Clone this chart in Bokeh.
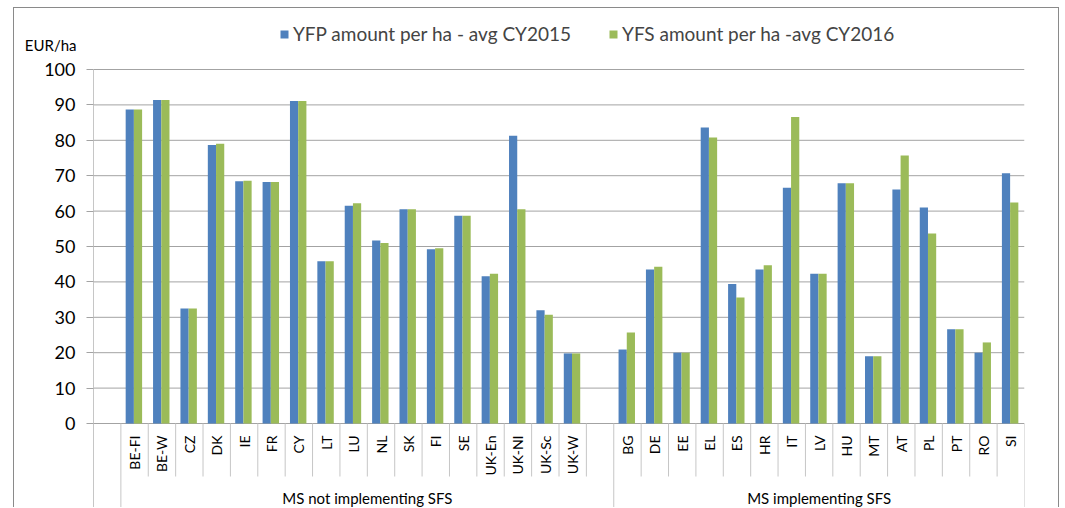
import math
from bokeh.plotting import figure
from bokeh.models import FixedTicker, ColumnDataSource, Legend, LegendItem
from bokeh.core.properties import value
from bokeh.embed import file_html
from bokeh.resources import INLINE

# ---- data ----
group1_name = "MS not implementing SFS"
group1_countries = ["BE-FI", "BE-W", "CZ", "DK", "IE", "FR", "CY", "LT", "LU", "NL",
                    "SK", "FI", "SE", "UK-En", "UK-NI", "UK-Sc", "UK-W"]
group1_yfp = [88.7, 91.4, 32.5, 78.7, 68.4, 68.2, 91.1, 45.8, 61.5, 51.7,
              60.5, 49.2, 58.7, 41.6, 81.3, 32.0, 19.8]
group1_yfs = [88.7, 91.4, 32.5, 79.0, 68.6, 68.2, 91.1, 45.8, 62.2, 51.0,
              60.5, 49.5, 58.7, 42.3, 60.5, 30.7, 19.8]

group2_name = "MS implementing SFS"
group2_countries = ["BG", "DE", "EE", "EL", "ES", "HR", "IT", "LV", "HU", "MT",
                    "AT", "PL", "PT", "RO", "SI"]
group2_yfp = [20.9, 43.5, 20.0, 83.6, 39.4, 43.5, 66.6, 42.3, 67.9, 19.0,
              66.1, 61.0, 26.6, 20.0, 70.7]
group2_yfs = [25.7, 44.3, 20.0, 80.8, 35.6, 44.7, 86.6, 42.3, 67.9, 19.0,
              75.7, 53.7, 26.6, 22.9, 62.4]

series_names = ["YFP amount per ha - avg CY2015", "YFS amount per ha -avg CY2016"]
y_ticks = [0, 10, 20, 30, 40, 50, 60, 70, 80, 90, 100]
y_unit = "EUR/ha"

# ---- category slot layout ----
g1_start = 1                                   # one empty slot before group 1
g1_end = g1_start + len(group1_countries) + 1  # one empty slot after group 1
g2_start = g1_end
g2_end = g2_start + len(group2_countries)
n_slots = g2_end

countries = group1_countries + group2_countries
yfp = group1_yfp + group2_yfp
yfs = group1_yfs + group2_yfs
centers = [g1_start + i + 0.5 for i in range(len(group1_countries))] + \
          [g2_start + i + 0.5 for i in range(len(group2_countries))]

BLUE = "#4F81BD"
GREEN = "#9BBB59"
GRID = "#a3a3a3"
SEP = "#c6c6c6"
FONT = "Lato"

# ---- geometry (pixels) ----
W, H = 1046, 500
MR = 36
axis_px = 79                     # from frame left edge to the value axis
frame_w = W - MR
slot_px = (frame_w - axis_px) / n_slots
x_start = -axis_px / slot_px
px_per_unit = 3.54
top_px = 61                      # frame top to value 100
y_end = 100 + top_px / px_per_unit
y_start = -(H - top_px - 100 * px_per_unit) / px_per_unit

p = figure(width=W, height=H, x_range=(x_start, n_slots), y_range=(y_start, y_end),
           output_backend="svg", toolbar_location=None, x_axis_location=None,
           min_border_left=0, min_border_right=MR, min_border_top=0, min_border_bottom=0,
           outline_line_color=None, background_fill_color="white", border_fill_color="white")
p.margin = (7, 0, 0, 13)
p.styles = {"border-top": "1px solid #8a8a8a", "border-left": "1px solid #8a8a8a",
            "border-right": "1px solid #8a8a8a"}

# value axis, drawn at the category axis origin
ya = p.yaxis[0]
ya.fixed_location = 0
ya.ticker = FixedTicker(ticks=y_ticks)
ya.axis_line_color = None
ya.major_tick_out = 7
ya.major_tick_in = 0
ya.major_tick_line_color = GRID
ya.minor_tick_line_color = None
ya.major_label_text_font = FONT
ya.major_label_text_font_size = "18px"
ya.major_label_text_color = "#000000"
ya.major_label_standoff = 11

p.xgrid.visible = False
p.ygrid.visible = False

# horizontal gridlines across the category area
p.segment(x0=[0] * len(y_ticks), y0=y_ticks, x1=[n_slots] * len(y_ticks), y1=y_ticks,
          line_color=GRID, line_width=1)

# axis line and category separators
full_lines = [g1_start, g2_start, n_slots]
short_lines = list(range(g1_start + 1, g1_end)) + list(range(g2_start + 1, g2_end))
level1_bottom = -53 / px_per_unit
p.segment(x0=[0], y0=[y_ticks[-1]], x1=[0], y1=[y_start], line_color=SEP, line_width=1)
p.segment(x0=full_lines, y0=[0] * len(full_lines), x1=full_lines, y1=[y_start] * len(full_lines),
          line_color=SEP, line_width=1)
p.segment(x0=short_lines, y0=[0] * len(short_lines), x1=short_lines,
          y1=[level1_bottom] * len(short_lines), line_color=SEP, line_width=1)

# bars
bw = 0.30
src = ColumnDataSource(dict(c=centers, yfp=yfp, yfs=yfs, name=countries))
r1 = p.vbar(x=[c - 0.175 for c in centers], top=yfp, bottom=0, width=bw,
            fill_color=BLUE, line_color=None)
r2 = p.vbar(x=[c + 0.125 for c in centers], top=yfs, bottom=0, width=bw,
            fill_color=GREEN, line_color=None)

# category labels
p.text(x="c", y=-12 / px_per_unit, text="name", source=src, angle=math.pi / 2,
       text_align="right", text_baseline="middle", text_font=value(FONT),
       text_font_size="14px", text_color="#000000")
# group labels
p.text(x=[(g1_start + g2_start) / 2, (g2_start + g2_end) / 2], y=[-74 / px_per_unit] * 2,
       text=[group1_name, group2_name], text_align="center", text_baseline="middle",
       text_font=value(FONT), text_font_size="15px", text_color="#000000")
# unit label
p.text(x=[-17 / slot_px], y=[100 + 25 / px_per_unit], text=[y_unit],
       text_align="right", text_baseline="middle", text_font=value(FONT),
       text_font_size="15px", text_color="#000000")

# legend
legend = Legend(items=[LegendItem(label=series_names[0], renderers=[r1]),
                       LegendItem(label=series_names[1], renderers=[r2])],
                orientation="horizontal", location=(265, H - 37),
                glyph_width=10, glyph_height=10, label_standoff=4, spacing=37,
                padding=0, margin=0, border_line_color=None, background_fill_alpha=0,
                label_text_font=FONT, label_text_font_size="19px", label_height=20)
p.add_layout(legend, "center")

open("out.html", "w").write(file_html(p, INLINE))
